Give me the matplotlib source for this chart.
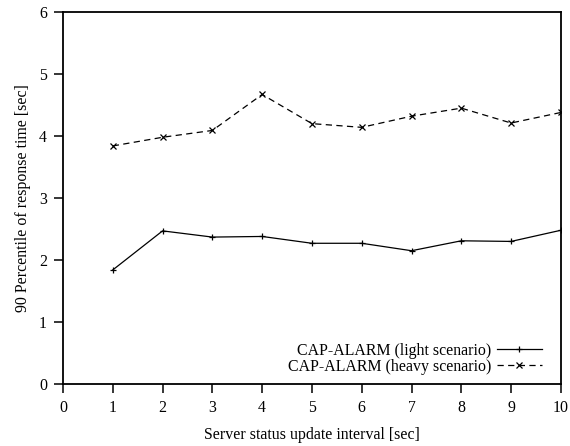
import matplotlib
matplotlib.use("Agg")
import matplotlib.pyplot as plt

intervals = [1, 2, 3, 4, 5, 6, 7, 8, 9, 10]
light = [1.84, 2.47, 2.37, 2.38, 2.27, 2.27, 2.15, 2.31, 2.30, 2.48]
heavy = [3.84, 3.98, 4.09, 4.67, 4.20, 4.14, 4.32, 4.45, 4.21, 4.38]
xticks = list(range(0, 11))
yticks = list(range(0, 7))

plt.rcParams["font.family"] = ["Liberation Serif", "DejaVu Serif"]
plt.rcParams["font.size"] = 11.4

fig = plt.figure(figsize=(5.70, 4.46), dpi=100)
ax = fig.add_axes([0.1105, 0.139, 0.8735, 0.834])

ax.plot(intervals, light, color="black", lw=0.9, marker="+", ms=5, mew=0.9,
        label="CAP-ALARM (light scenario)")
ax.plot(intervals, heavy, color="black", lw=0.9, ls=(0, (5, 3.5)), marker="x", ms=4, mew=0.9,
        label="CAP-ALARM (heavy scenario)")

ax.set_xlim(0, 10)
ax.set_ylim(0, 6)
ax.set_xticks(xticks)
ax.set_yticks(yticks)
ax.tick_params(direction="out", length=6.5, width=1.1, pad=5, top=False, right=False)
for s in ax.spines.values():
    s.set_linewidth(1.3)

ax.set_xlabel("Server status update interval [sec]", labelpad=8)
ax.set_ylabel("90 Percentile of response time [sec]", labelpad=6)

ax.legend(loc="lower right", bbox_to_anchor=(0.974, 0.008), frameon=False,
          markerfirst=False, handlelength=2.8, handletextpad=0.4,
          labelspacing=0.0, borderaxespad=0.0)

fig.savefig("out.png", dpi=100)
